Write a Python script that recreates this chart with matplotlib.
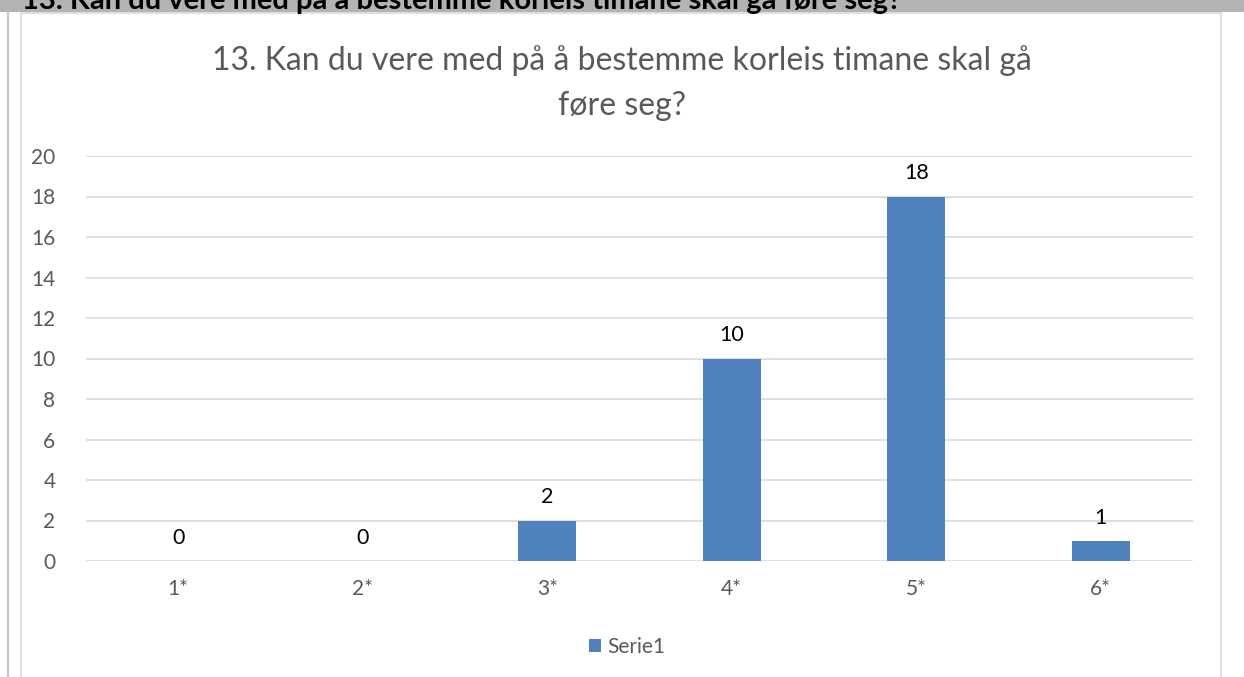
import matplotlib.pyplot as plt
from matplotlib.patches import Rectangle
from matplotlib.lines import Line2D

categories = ['1*', '2*', '3*', '4*', '5*', '6*']
values = [0, 0, 2, 10, 18, 1]
yticks = [0, 2, 4, 6, 8, 10, 12, 14, 16, 18, 20]
title = '13. Kan du vere med på å bestemme korleis timane skal gå\nføre seg?'
header = '13. Kan du vere med på å bestemme korleis timane skal gå føre seg?'
series_name = 'Serie1'

W, H = 1244, 677
fig = plt.figure(figsize=(W / 100, H / 100), dpi=100)
plt.rcParams['font.family'] = ['Lato', 'DejaVu Sans']

# gray header strip with cut-off bold question
fig.patches.append(Rectangle((0, 1 - 12 / H), 1, 12 / H, transform=fig.transFigure,
                             facecolor='#b3b3b3', edgecolor='none', zorder=0))
fig.text(22 / W, 1 + 0 / H, header, fontsize=21, fontweight='bold', color='black',
         ha='left', va='center')

# outer cell line and chart frame
fig.lines.append(Line2D([8 / W, 8 / W], [0, 1 - 12 / H], transform=fig.transFigure,
                        color='#c8c8c8', lw=1.5))
fig.lines.append(Line2D([21 / W, 21 / W, 1221 / W, 1221 / W], [0, 1 - 13 / H, 1 - 13 / H, 0],
                        transform=fig.transFigure, color='#d9d9d9', lw=1.2))

ax = fig.add_axes([86 / W, 1 - 561 / H, (1193 - 86) / W, (561 - 156) / H])
x = range(len(categories))
bars = ax.bar(x, values, width=0.315, color='#4f81bd', label=series_name, zorder=3)
for xi, v in zip(x, values):
    ax.text(xi, v + 0.65, str(v), ha='center', va='bottom', fontsize=15.5, color='black')

ax.set_xlim(-0.5, len(categories) - 0.5)
ax.set_ylim(0, 20)
ax.set_yticks(yticks)
ax.set_xticks(list(x))
ax.set_xticklabels(categories)
ax.tick_params(axis='both', length=0, labelsize=15, labelcolor='#595959')
ax.tick_params(axis='y', pad=22)
ax.tick_params(axis='x', pad=13)
ax.grid(axis='y', color='#d9d9d9', lw=1.2, zorder=0)
for s in ax.spines.values():
    s.set_visible(False)

fig.text(622 / W, 1 - 83 / H, title, ha='center', va='center', fontsize=23,
         color='#595959', linespacing=1.6)

fig.legend(handles=[bars], labels=[series_name], loc='center', bbox_to_anchor=(627 / W, 1 - 647 / H),
           frameon=False, fontsize=15, handlelength=0.6, handleheight=0.6, handletextpad=0.3,
           labelcolor='#595959')

plt.savefig('out.png', dpi=100)
